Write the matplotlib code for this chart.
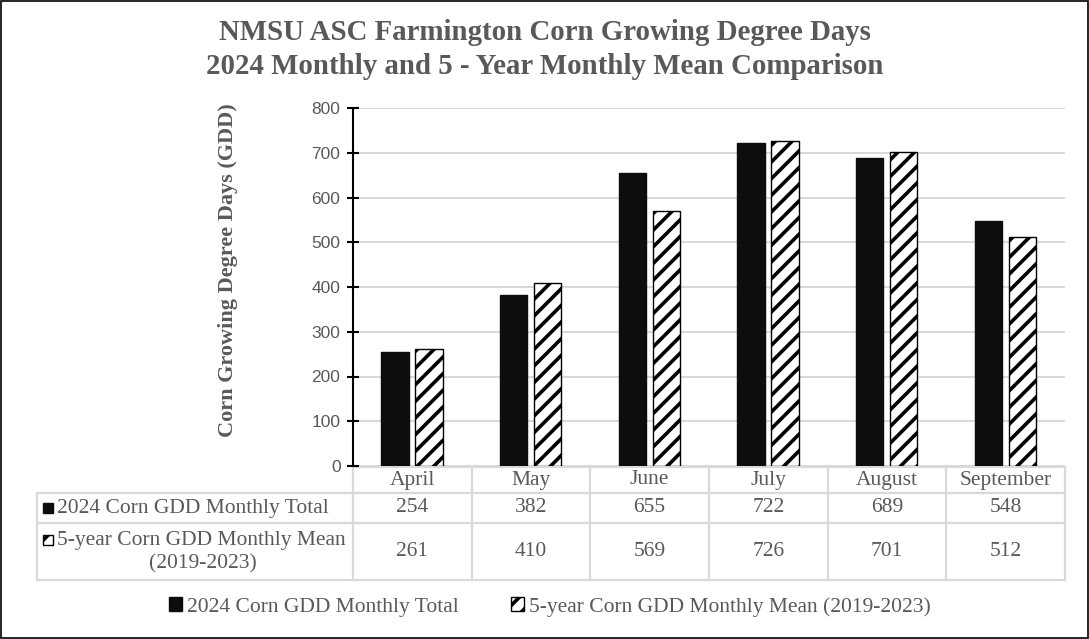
import matplotlib.pyplot as plt
from matplotlib.patches import Rectangle
import numpy as np

# data
months = ["April", "May", "June", "July", "August", "September"]
gdd_2024 = [254, 382, 655, 722, 689, 548]
gdd_5yr_mean = [261, 410, 569, 726, 701, 512]
label_2024 = "2024 Corn GDD Monthly Total"
label_mean = "5-year Corn GDD Monthly Mean (2019-2023)"
label_mean_line1 = "5-year Corn GDD Monthly Mean"
label_mean_line2 = "(2019-2023)"
y_ticks = [0, 100, 200, 300, 400, 500, 600, 700, 800]

GREY = "#595959"
GRID = "#d9d9d9"
SERIF = ["Liberation Serif", "DejaVu Serif"]
SANS = ["Liberation Sans", "DejaVu Sans"]

plt.rcParams["hatch.linewidth"] = 2.6

W, H = 1089, 639
fig = plt.figure(figsize=(W / 100, H / 100), dpi=100)

# pixel layout helpers
ax_left, ax_right, ax_top, ax_bottom = 353, 1065, 108, 466
ax = fig.add_axes([ax_left / W, 1 - ax_bottom / H,
                   (ax_right - ax_left) / W, (ax_bottom - ax_top) / H])

x = np.arange(len(months))
bw = 0.23
ax.bar(x - 0.145, gdd_2024, bw, color="#0d0d0d", edgecolor="#0d0d0d",
       label=label_2024, zorder=3)
ax.bar(x + 0.14, gdd_5yr_mean, bw, color="white", edgecolor="black",
       hatch="//", linewidth=1.0, label=label_mean, zorder=3)

ax.set_xlim(-0.5, len(months) - 0.5)
ax.set_ylim(0, 800)
ax.set_yticks(y_ticks)
ax.set_xticks([])
ax.yaxis.grid(True, color=GRID, linewidth=1.5, zorder=0)
ax.tick_params(axis="y", direction="inout", length=8, width=1.5,
               colors="black", labelcolor=GREY, labelsize=12.5, pad=5)
for lbl in ax.get_yticklabels():
    lbl.set_family(SANS)
for s in ["top", "right", "bottom"]:
    ax.spines[s].set_visible(False)
ax.spines["left"].set_linewidth(1.5)
ax.set_ylabel("Corn Growing Degree Days (GDD)", fontsize=16, fontweight="bold",
              color=GREY, family=SERIF)
ax.yaxis.set_label_coords((238 - ax_left) / (ax_right - ax_left),
                          (ax_bottom - 270) / (ax_bottom - ax_top))

# overlay axes in pixel coordinates for title, table and frame
ov = fig.add_axes([0, 0, 1, 1], zorder=-1)
ov.set_xlim(0, W)
ov.set_ylim(H, 0)
ov.axis("off")
ov.patch.set_alpha(0)

ov.add_patch(Rectangle((0.5, 0.5), W - 1.5, H - 1.5, fill=False,
                       edgecolor="black", linewidth=1.2))

ov.text(545, 33, "NMSU ASC Farmington Corn Growing Degree Days", ha="center",
        va="center", fontsize=20.8, fontweight="bold", color=GREY, family=SERIF)
ov.text(545, 67, "2024 Monthly and 5 - Year Monthly Mean Comparison", ha="center",
        va="center", fontsize=20.8, fontweight="bold", color=GREY, family=SERIF)

# data table below the plot
col_w = (ax_right - ax_left) / len(months)
col_edges = [ax_left + i * col_w for i in range(len(months) + 1)]
tbl_left = 37
rows_y = [467, 493, 523, 580]
lw_t = 1.6
ov.plot([ax_left, ax_right], [rows_y[0], rows_y[0]], color=GRID, lw=lw_t)
for yy in rows_y[1:]:
    ov.plot([tbl_left, ax_right], [yy, yy], color=GRID, lw=lw_t)
for xx in col_edges:
    ov.plot([xx, xx], [rows_y[0], rows_y[-1]], color=GRID, lw=lw_t)
ov.plot([tbl_left, tbl_left], [rows_y[1], rows_y[-1]], color=GRID, lw=lw_t)

tfs = 15.5
for i, m in enumerate(months):
    cx = (col_edges[i] + col_edges[i + 1]) / 2
    ov.text(cx, (rows_y[0] + rows_y[1]) / 2, m, ha="center", va="center",
            fontsize=tfs, color=GREY, family=SERIF)
    ov.text(cx, (rows_y[1] + rows_y[2]) / 2, str(gdd_2024[i]), ha="center",
            va="center", fontsize=tfs, color=GREY, family=SERIF)
    ov.text(cx, (rows_y[2] + rows_y[3]) / 2, str(gdd_5yr_mean[i]), ha="center",
            va="center", fontsize=tfs, color=GREY, family=SERIF)

# row labels with small key squares
ov.add_patch(Rectangle((43, 503), 10, 10, facecolor="#0d0d0d", edgecolor="#0d0d0d"))
ov.text(57, (rows_y[1] + rows_y[2]) / 2, label_2024, ha="left", va="center",
        fontsize=tfs, color=GREY, family=SERIF)
ov.add_patch(Rectangle((43, 535), 10, 10, facecolor="white", edgecolor="black",
                       hatch="//", lw=1.0))
ov.text(57, 540, label_mean_line1, ha="left", va="center",
        fontsize=tfs, color=GREY, family=SERIF)
ov.text(203, 564, label_mean_line2, ha="center", va="center",
        fontsize=tfs, color=GREY, family=SERIF)

# legend at the bottom
leg = fig.legend(loc="center", bbox_to_anchor=(0.505, 1 - 607 / H), ncol=2,
                 frameon=False, handlelength=0.6, handleheight=0.6,
                 handletextpad=0.25, columnspacing=2.4,
                 prop={"family": SERIF, "size": tfs})
for t in leg.get_texts():
    t.set_color(GREY)

fig.savefig("out.png", dpi=100)
